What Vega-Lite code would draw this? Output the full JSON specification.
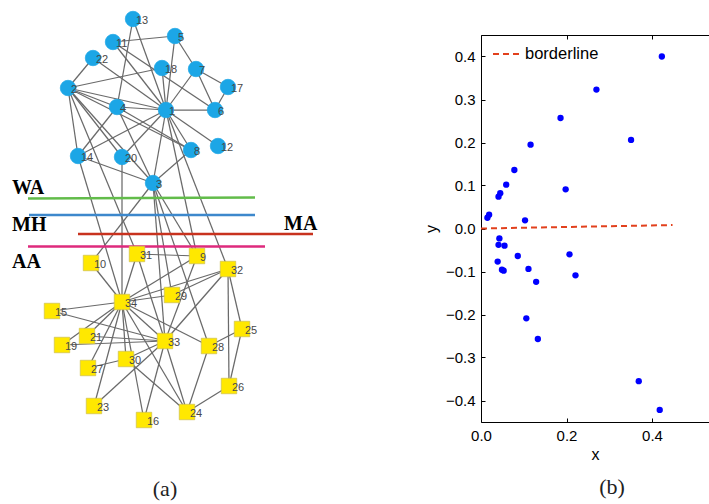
{
  "$schema": "https://vega.github.io/schema/vega-lite/v6.json",
  "autosize": {"type": "pad"},
  "padding": {"left": 0, "top": 9, "right": 0, "bottom": 6},
  "bounds": "flush",
  "spacing": 151,
  "background": "white",
  "config": {"view": {"stroke": null}, "font": "Liberation Sans"},
  "resolve": {"scale": {"color": "independent"}, "legend": {"color": "independent"}},
  "datasets": {
    "nodes": [
      {"id": 1, "px": 166, "py": 110, "g": "A"},
      {"id": 2, "px": 68, "py": 88, "g": "A"},
      {"id": 3, "px": 153, "py": 183, "g": "A"},
      {"id": 4, "px": 117, "py": 107, "g": "A"},
      {"id": 5, "px": 175, "py": 36, "g": "A"},
      {"id": 6, "px": 215, "py": 110, "g": "A"},
      {"id": 7, "px": 196, "py": 69, "g": "A"},
      {"id": 8, "px": 191, "py": 150, "g": "A"},
      {"id": 11, "px": 113, "py": 42, "g": "A"},
      {"id": 12, "px": 218, "py": 146, "g": "A"},
      {"id": 13, "px": 133, "py": 19, "g": "A"},
      {"id": 14, "px": 78, "py": 156, "g": "A"},
      {"id": 17, "px": 228, "py": 87, "g": "A"},
      {"id": 18, "px": 162, "py": 68, "g": "A"},
      {"id": 20, "px": 122, "py": 157, "g": "A"},
      {"id": 22, "px": 93, "py": 58, "g": "A"},
      {"id": 9, "px": 197, "py": 256, "g": "B"},
      {"id": 10, "px": 91, "py": 263, "g": "B"},
      {"id": 15, "px": 52, "py": 311, "g": "B"},
      {"id": 16, "px": 144, "py": 420, "g": "B"},
      {"id": 19, "px": 62, "py": 345, "g": "B"},
      {"id": 21, "px": 87, "py": 336, "g": "B"},
      {"id": 23, "px": 94, "py": 406, "g": "B"},
      {"id": 24, "px": 187, "py": 412, "g": "B"},
      {"id": 25, "px": 242, "py": 329, "g": "B"},
      {"id": 26, "px": 229, "py": 386, "g": "B"},
      {"id": 27, "px": 88, "py": 368, "g": "B"},
      {"id": 28, "px": 209, "py": 346, "g": "B"},
      {"id": 29, "px": 172, "py": 295, "g": "B"},
      {"id": 30, "px": 126, "py": 359, "g": "B"},
      {"id": 31, "px": 137, "py": 254, "g": "B"},
      {"id": 32, "px": 228, "py": 269, "g": "B"},
      {"id": 33, "px": 165, "py": 341, "g": "B"},
      {"id": 34, "px": 122, "py": 302, "g": "B"}
    ],
    "edges": [
      {"s": 1, "t": 2}, {"s": 1, "t": 3}, {"s": 1, "t": 4}, {"s": 1, "t": 5}, {"s": 1, "t": 6}, {"s": 1, "t": 7}, {"s": 1, "t": 8}, {"s": 1, "t": 9},
      {"s": 1, "t": 11}, {"s": 1, "t": 12}, {"s": 1, "t": 13}, {"s": 1, "t": 14}, {"s": 1, "t": 18}, {"s": 1, "t": 20}, {"s": 1, "t": 22}, {"s": 1, "t": 32},
      {"s": 2, "t": 3}, {"s": 2, "t": 4}, {"s": 2, "t": 8}, {"s": 2, "t": 14}, {"s": 2, "t": 18}, {"s": 2, "t": 20}, {"s": 2, "t": 22}, {"s": 2, "t": 31},
      {"s": 3, "t": 4}, {"s": 3, "t": 8}, {"s": 3, "t": 9}, {"s": 3, "t": 10}, {"s": 3, "t": 14}, {"s": 3, "t": 28}, {"s": 3, "t": 29}, {"s": 3, "t": 33},
      {"s": 4, "t": 8}, {"s": 4, "t": 13}, {"s": 4, "t": 14},
      {"s": 5, "t": 7}, {"s": 5, "t": 11},
      {"s": 6, "t": 7}, {"s": 6, "t": 11}, {"s": 6, "t": 17},
      {"s": 7, "t": 17},
      {"s": 9, "t": 31}, {"s": 9, "t": 33}, {"s": 9, "t": 34},
      {"s": 10, "t": 34}, {"s": 14, "t": 34},
      {"s": 15, "t": 33}, {"s": 15, "t": 34}, {"s": 16, "t": 33}, {"s": 16, "t": 34},
      {"s": 19, "t": 33}, {"s": 19, "t": 34}, {"s": 20, "t": 34},
      {"s": 21, "t": 33}, {"s": 21, "t": 34}, {"s": 23, "t": 33}, {"s": 23, "t": 34},
      {"s": 24, "t": 26}, {"s": 24, "t": 28}, {"s": 24, "t": 30}, {"s": 24, "t": 33}, {"s": 24, "t": 34},
      {"s": 25, "t": 26}, {"s": 25, "t": 28}, {"s": 25, "t": 32}, {"s": 26, "t": 32},
      {"s": 27, "t": 30}, {"s": 27, "t": 34}, {"s": 28, "t": 34},
      {"s": 29, "t": 32}, {"s": 29, "t": 34}, {"s": 30, "t": 33}, {"s": 30, "t": 34},
      {"s": 31, "t": 33}, {"s": 31, "t": 34}, {"s": 32, "t": 33}, {"s": 32, "t": 34}, {"s": 33, "t": 34}
    ],
    "bands": [
      {"band": "WA", "x1": 28, "y1": 198.5, "x2": 255, "y2": 197.5},
      {"band": "MH", "x1": 29, "y1": 215, "x2": 255, "y2": 215},
      {"band": "MA", "x1": 78, "y1": 234, "x2": 313, "y2": 234},
      {"band": "AA", "x1": 28, "y1": 246.5, "x2": 265, "y2": 246.5}
    ],
    "bandlabels": [
      {"label": "WA", "px": 12, "py": 188},
      {"label": "MH", "px": 12, "py": 225},
      {"label": "MA", "px": 284, "py": 224},
      {"label": "AA", "px": 12, "py": 262}
    ],
    "scatter": [
      {"x": 0.423, "y": 0.400}, {"x": 0.270, "y": 0.323}, {"x": 0.186, "y": 0.257}, {"x": 0.351, "y": 0.206},
      {"x": 0.116, "y": 0.195}, {"x": 0.078, "y": 0.136}, {"x": 0.059, "y": 0.102}, {"x": 0.198, "y": 0.091},
      {"x": 0.045, "y": 0.082}, {"x": 0.041, "y": 0.074}, {"x": 0.019, "y": 0.032}, {"x": 0.015, "y": 0.025},
      {"x": 0.103, "y": 0.019},
      {"x": 0.043, "y": -0.023}, {"x": 0.041, "y": -0.038}, {"x": 0.055, "y": -0.040}, {"x": 0.039, "y": -0.077},
      {"x": 0.049, "y": -0.096}, {"x": 0.053, "y": -0.098}, {"x": 0.086, "y": -0.064}, {"x": 0.207, "y": -0.060},
      {"x": 0.111, "y": -0.094}, {"x": 0.221, "y": -0.109}, {"x": 0.129, "y": -0.124}, {"x": 0.106, "y": -0.209},
      {"x": 0.133, "y": -0.257}, {"x": 0.369, "y": -0.355}, {"x": 0.418, "y": -0.422}
    ],
    "border": [
      {"series": "borderline", "x": 0, "y": 0},
      {"series": "borderline", "x": 0.448, "y": 0.008}
    ]
  },
  "hconcat": [
    {
      "width": 330,
      "height": 387,
      "title": {"text": "(a)", "orient": "bottom", "frame": "group", "offset": 67, "baseline": "alphabetic", "font": "Liberation Serif", "fontSize": 22, "fontWeight": "normal", "color": "#222"},
      "layer": [
        {
          "data": {"name": "edges"},
          "transform": [
            {"lookup": "s", "from": {"data": {"name": "nodes"}, "key": "id", "fields": ["px", "py"]}, "as": ["sx", "sy"]},
            {"lookup": "t", "from": {"data": {"name": "nodes"}, "key": "id", "fields": ["px", "py"]}, "as": ["tx", "ty"]}
          ],
          "mark": {"type": "rule", "color": "#6a6a6a", "strokeWidth": 1.25},
          "encoding": {
            "x": {"field": "sx", "type": "quantitative", "scale": {"domain": [0, 330], "nice": false, "zero": false}, "axis": null},
            "y": {"field": "sy", "type": "quantitative", "scale": {"domain": [35, 422], "reverse": true, "nice": false, "zero": false}, "axis": null},
            "x2": {"field": "tx"},
            "y2": {"field": "ty"}
          }
        },
        {
          "data": {"name": "bands"},
          "mark": {"type": "rule", "strokeWidth": 2.5},
          "encoding": {
            "x": {"field": "x1", "type": "quantitative"},
            "y": {"field": "y1", "type": "quantitative"},
            "x2": {"field": "x2"},
            "y2": {"field": "y2"},
            "color": {"field": "band", "type": "nominal", "scale": {"domain": ["WA", "MH", "MA", "AA"], "range": ["#62BC4A", "#3D88CC", "#C8321E", "#DE2A7C"]}, "legend": null}
          }
        },
        {
          "data": {"name": "nodes"},
          "mark": {"type": "point", "filled": true, "opacity": 1, "size": 240, "strokeWidth": 0.7},
          "encoding": {
            "x": {"field": "px", "type": "quantitative"},
            "y": {"field": "py", "type": "quantitative"},
            "shape": {"field": "g", "type": "nominal", "scale": {"domain": ["A", "B"], "range": ["circle", "square"]}, "legend": null},
            "fill": {"field": "g", "type": "nominal", "scale": {"domain": ["A", "B"], "range": ["#1CA6E6", "#FFE800"]}, "legend": null},
            "stroke": {"field": "g", "type": "nominal", "scale": {"domain": ["A", "B"], "range": ["#1CA6E6", "#CDBE55"]}, "legend": null}
          }
        },
        {
          "data": {"name": "nodes"},
          "mark": {"type": "text", "align": "left", "baseline": "middle", "dx": 3, "dy": 2, "fontSize": 11, "color": "#484848"},
          "encoding": {
            "x": {"field": "px", "type": "quantitative"},
            "y": {"field": "py", "type": "quantitative"},
            "text": {"field": "id"}
          }
        },
        {
          "data": {"name": "bandlabels"},
          "mark": {"type": "text", "align": "left", "baseline": "middle", "font": "Liberation Serif", "fontWeight": "bold", "fontSize": 20, "color": "black"},
          "encoding": {
            "x": {"field": "px", "type": "quantitative"},
            "y": {"field": "py", "type": "quantitative"},
            "text": {"field": "label"}
          }
        }
      ]
    },
    {
      "width": 228,
      "height": 387,
      "title": {"text": "(b)", "orient": "bottom", "frame": "group", "offset": 32, "dx": 17, "baseline": "alphabetic", "font": "Liberation Serif", "fontSize": 22, "fontWeight": "normal", "color": "#222"},
      "layer": [
        {
          "data": {"name": "border"},
          "mark": {"type": "line", "strokeDash": [6, 4], "strokeWidth": 2},
          "encoding": {
            "x": {"field": "x", "type": "quantitative", "scale": {"domain": [0, 0.5333], "nice": false, "zero": false},
                  "axis": {"orient": "top", "labels": false, "title": null, "values": [0, 0.2, 0.4], "tickSize": -4, "grid": false, "domainColor": "black", "tickColor": "black"}},
            "y": {"field": "y", "type": "quantitative", "scale": {"domain": [-0.45, 0.45], "nice": false, "zero": false},
                  "axis": {"orient": "left", "values": [-0.4, -0.3, -0.2, -0.1, 0, 0.1, 0.2, 0.3, 0.4], "tickSize": -4, "labelPadding": 10, "grid": false,
                           "domainColor": "black", "tickColor": "black", "labelColor": "black", "labelFontSize": 15, "labelFlush": false, "labelOverlap": false,
                           "title": "y", "titleFontSize": 16, "titleFontWeight": "normal", "titleColor": "black", "titlePadding": 6}},
            "color": {"field": "series", "type": "nominal", "scale": {"domain": ["borderline"], "range": ["#E2401C"]},
                      "legend": {"orient": "none", "legendX": 11, "legendY": 4, "title": null, "symbolType": "stroke", "symbolSize": 784, "symbolStrokeWidth": 2, "symbolDash": [6, 4], "labelFontSize": 16.5, "labelColor": "black", "labelOffset": 3, "padding": 0}}
          }
        },
        {
          "data": {"name": "scatter"},
          "mark": {"type": "circle", "color": "#0000FF", "size": 40, "opacity": 1},
          "encoding": {
            "x": {"field": "x", "type": "quantitative",
                  "axis": {"orient": "bottom", "values": [0, 0.2, 0.4], "tickSize": -4, "labelPadding": 10, "grid": false, "domainColor": "black", "tickColor": "black",
                           "labelColor": "black", "labelFontSize": 15, "labelFlush": false, "title": "x", "titleFontSize": 16, "titleFontWeight": "normal", "titleColor": "black", "titlePadding": 3}},
            "y": {"field": "y", "type": "quantitative"}
          }
        }
      ],
      "resolve": {"axis": {"x": "independent"}}
    }
  ]
}
